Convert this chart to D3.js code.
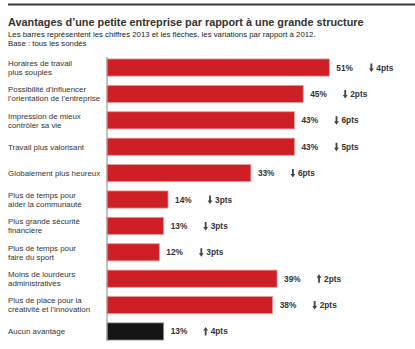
<!DOCTYPE html>
<html>
<head>
<meta charset="utf-8">
<script src="https://cdn.jsdelivr.net/npm/d3@7"></script>
<style>
  html, body { margin: 0; padding: 0; background: #fff; }
  svg { display: block; font-family: "Liberation Sans", Arial, Helvetica, sans-serif; }
</style>
</head>
<body>
<svg id="chart" width="415" height="349"></svg>
<script>
const categories = [
  ["Horaires de travail", "plus souples"],
  ["Possibilité d’influencer", "l’orientation de l’entreprise"],
  ["Impression de mieux", "contrôler sa vie"],
  ["Travail plus valorisant"],
  ["Globalement plus heureux"],
  ["Plus de temps pour", "aider la communauté"],
  ["Plus grande sécurité", "financière"],
  ["Plus de temps pour", "faire du sport"],
  ["Moins de lourdeurs", "administratives"],
  ["Plus de place pour la", "créativité et l’innovation"],
  ["Aucun avantage"]
];
const values2013 = [51, 45, 43, 43, 33, 14, 13, 12, 39, 38, 13];
const changes2012 = [-4, -2, -6, -5, -6, -3, -3, -3, 2, -2, 4];
const title = "Avantages d’une petite entreprise par rapport à une grande structure";
const subtitle1 = "Les barres représentent les chiffres 2013 et les flèches, les variations par rapport à 2012.";
const subtitle2 = "Base : tous les sondés";

const svg = d3.select("#chart");
const keys = categories.map((c, i) => i);

const y = d3.scaleBand().domain(keys).range([55, 344]).paddingInner(0.35).paddingOuter(0.15);
const x = d3.scaleLinear().domain([0, 100]).range([107, 543]);

// top rule
svg.append("line").attr("x1", 8).attr("x2", 415).attr("y1", 4.5).attr("y2", 4.5)
  .attr("stroke", "#3a3a3a").attr("stroke-width", 2);

const t = svg.append("text").attr("x", 8).attr("y", 25.5).attr("font-size", 13).attr("font-weight", "bold")
  .attr("fill", "#333").text(title);
const tw = t.node().getComputedTextLength();
t.attr("font-size", 13 * 356 / tw);

svg.append("text").attr("x", 8).attr("y", 36.5).attr("font-size", 7.8).attr("fill", "#222").text(subtitle1);
svg.append("text").attr("x", 8).attr("y", 46).attr("font-size", 7.8).attr("fill", "#222").text(subtitle2);

// bars
svg.append("g").selectAll("rect").data(keys).join("rect")
  .attr("x", x(0))
  .attr("y", d => y(d))
  .attr("width", d => x(values2013[d]) - x(0))
  .attr("height", y.bandwidth())
  .attr("fill", d => d === keys.length - 1 ? "#141414" : "#cf1f26")
  .attr("stroke", d => d === keys.length - 1 ? "#9a9a9a" : "#ec9a9c")
  .attr("stroke-width", 0.8);

// axis line
svg.append("line").attr("x1", x(0)).attr("x2", x(0)).attr("y1", 57).attr("y2", 341)
  .attr("stroke", "#999").attr("stroke-width", 1.2);

// category labels
const lab = svg.append("g").selectAll("text").data(keys).join("text")
  .attr("x", 8)
  .attr("font-size", 7.9)
  .attr("fill", "#333");
lab.each(function(d) {
  const lines = categories[d];
  const cy = y(d) + y.bandwidth() / 2;
  const tt = d3.select(this);
  lines.forEach((ln, j) => {
    tt.append("tspan").attr("x", 8)
      .attr("y", cy + 2.8 + (j - (lines.length - 1) / 2) * 9)
      .text(ln);
  });
});

// value labels
svg.append("g").selectAll("text").data(keys).join("text")
  .attr("x", d => x(values2013[d]) + 7)
  .attr("y", d => y(d) + y.bandwidth() / 2 + 3)
  .attr("font-size", 8.3)
  .attr("font-weight", "bold")
  .attr("fill", "#333")
  .text(d => values2013[d] + "%");

// change arrows and labels
const ch = svg.append("g").selectAll("g").data(keys).join("g")
  .attr("transform", d => `translate(${x(values2013[d]) + 42},${y(d) + y.bandwidth() / 2})`);
ch.append("path")
  .attr("d", d => changes2012[d] < 0
    ? "M-0.9,-4 L0.9,-4 L0.9,1 L2.4,1 L0,4.5 L-2.4,1 L-0.9,1 Z"
    : "M-0.9,4 L0.9,4 L0.9,-1 L2.4,-1 L0,-4.5 L-2.4,-1 L-0.9,-1 Z")
  .attr("fill", "#444");
ch.append("text")
  .attr("x", 5)
  .attr("y", 3)
  .attr("font-size", 8.3)
  .attr("font-weight", "bold")
  .attr("fill", "#333")
  .text(d => Math.abs(changes2012[d]) + "pts");
</script>
</body>
</html>
